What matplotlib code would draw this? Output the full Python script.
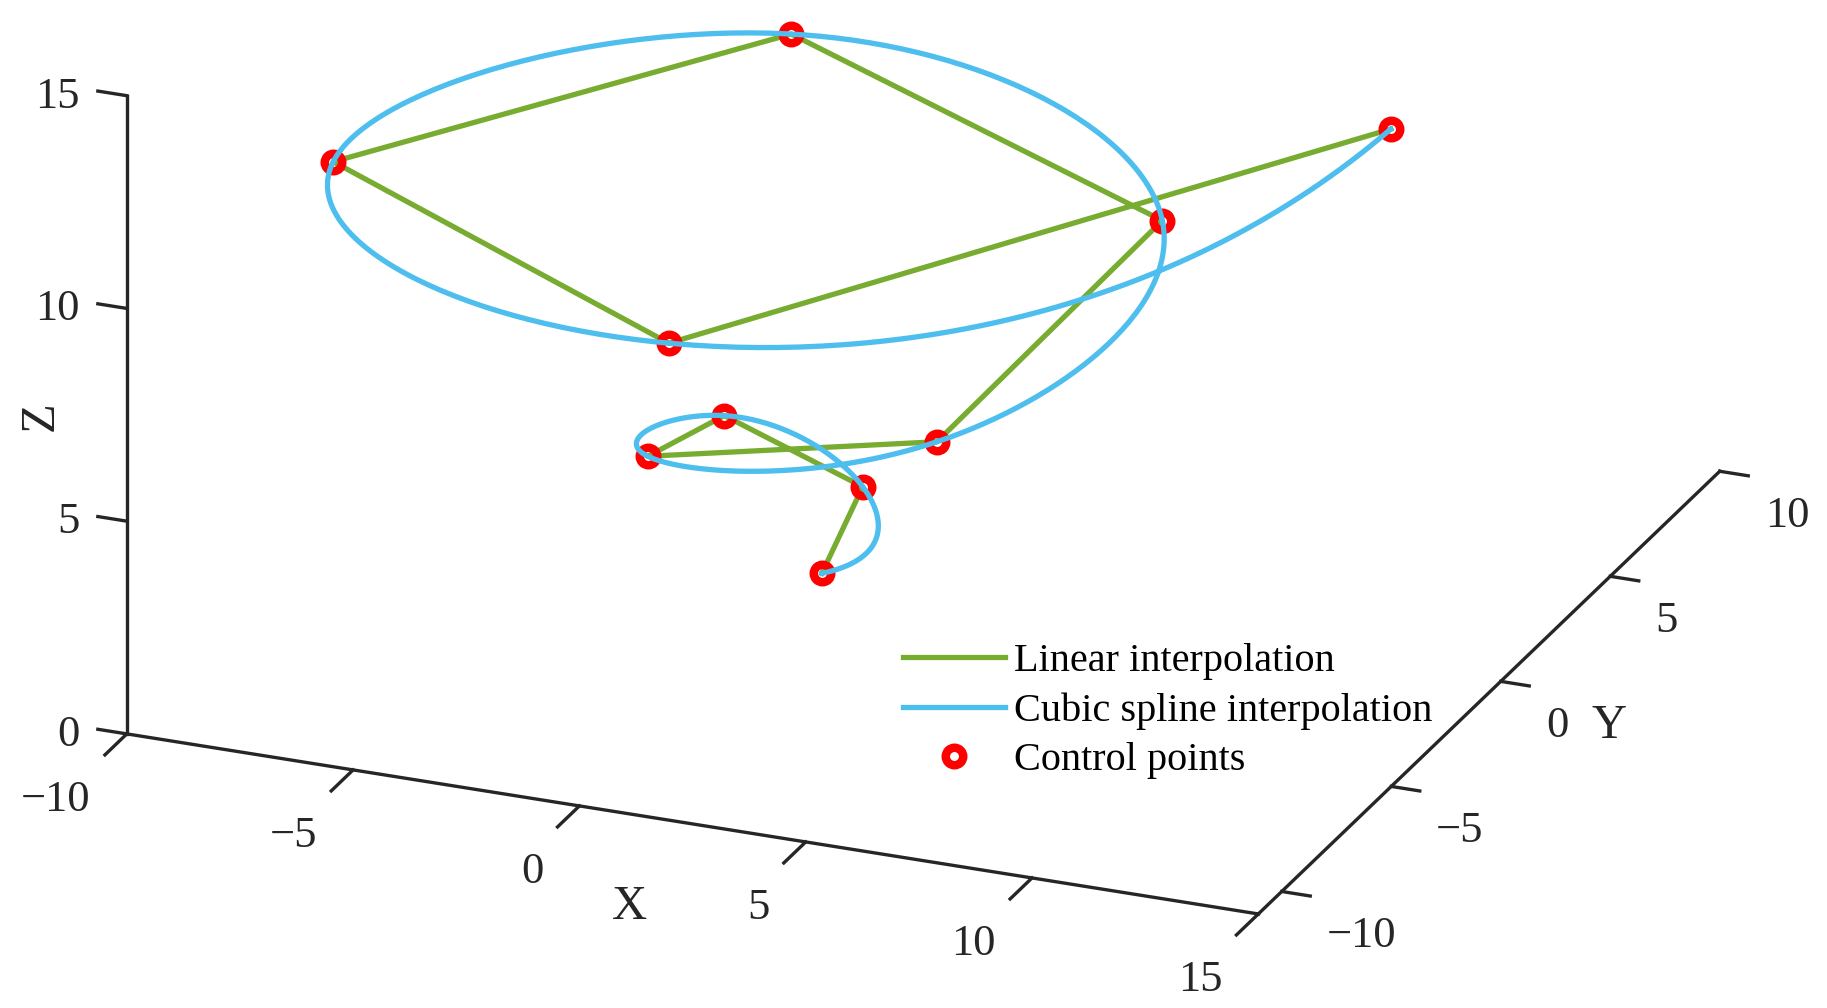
import numpy as np
import matplotlib
matplotlib.use("Agg")
import matplotlib.pyplot as plt
from matplotlib.transforms import IdentityTransform
from mpl_toolkits.mplot3d import proj3d

plt.rcParams['font.family'] = ['Liberation Serif', 'DejaVu Serif']

# ---------------- data (control points) ----------------
x_pts = [0.00, 0.24, -2.62, -2.09, 4.28, 5.35, -4.19, -9.18, 1.94, 12.57]
y_pts = [0.00, 1.37, 0.96, -3.63, -3.59, 4.49, 7.26, -3.34, -11.00, 0.00]
z_pts = [0.00, 1.40, 2.79, 4.19, 5.59, 6.98, 8.38, 9.77, 11.17, 12.57]

x_ticks = [-10, -5, 0, 5, 10, 15]
y_ticks = [-10, -5, 0, 5, 10]
z_ticks = [0, 5, 10, 15]
x_lim = (-10, 15)
y_lim = (-11.07, 10)
z_lim = (0, 15)

series_labels = ['Linear interpolation', 'Cubic spline interpolation', 'Control points']

GREEN = '#77AC30'
BLUE = '#4DBEEE'
RED = '#FF0000'
AXC = '#262626'


def spline_not_a_knot(tk, yk, tt):
    tk = np.asarray(tk, float)
    yk = np.asarray(yk, float)
    n = len(tk)
    h = np.diff(tk)
    A = np.zeros((n, n))
    b = np.zeros(n)
    A[0, 0], A[0, 1], A[0, 2] = h[1], -(h[0] + h[1]), h[0]
    for i in range(1, n - 1):
        A[i, i - 1] = h[i - 1]
        A[i, i] = 2 * (h[i - 1] + h[i])
        A[i, i + 1] = h[i]
        b[i] = 6 * ((yk[i + 1] - yk[i]) / h[i] - (yk[i] - yk[i - 1]) / h[i - 1])
    A[-1, -3], A[-1, -2], A[-1, -1] = h[-1], -(h[-2] + h[-1]), h[-2]
    M = np.linalg.solve(A, b)
    idx = np.clip(np.searchsorted(tk, tt) - 1, 0, n - 2)
    t0, t1 = tk[idx], tk[idx + 1]
    hh = t1 - t0
    a = t1 - tt
    c = tt - t0
    return ((M[idx] * a ** 3 + M[idx + 1] * c ** 3) / (6 * hh)
            + (yk[idx] / hh - M[idx] * hh / 6) * a
            + (yk[idx + 1] / hh - M[idx + 1] * hh / 6) * c)


tt = np.linspace(z_pts[0], z_pts[-1], 600)
xs_s = spline_not_a_knot(z_pts, x_pts, tt)
ys_s = spline_not_a_knot(z_pts, y_pts, tt)
zs_s = spline_not_a_knot(z_pts, z_pts, tt)

W, H = 1827, 1008
fig = plt.figure(figsize=(W / 100, H / 100), dpi=100)
fig.patch.set_facecolor('white')
ax = fig.add_axes([0, 0, 1, 1], projection='3d', proj_type='ortho',
                  computed_zorder=False)
ax.set_xlim(*x_lim)
ax.set_ylim(*y_lim)
ax.set_zlim(*z_lim)
ax.set_box_aspect((1221.7, 1223.3, 693.3))
ax.view_init(elev=23.0, azim=-67.84)
ax.set_axis_off()

# ---------------- axes lines and ticks (MATLAB-like box-less axes) ----------------
ax_lw = 2.4
xl0, xl1 = x_lim
yl0, yl1 = y_lim
zl0, zl1 = z_lim
ax.plot([xl0, xl1], [yl0, yl0], [zl0, zl0], color=AXC, lw=ax_lw, zorder=1)
ax.plot([xl1, xl1], [yl0, yl1], [zl0, zl0], color=AXC, lw=ax_lw, zorder=1)
ax.plot([xl0, xl0], [yl0, yl0], [zl0, zl1], color=AXC, lw=ax_lw, zorder=1)
for xv in x_ticks:
    ax.plot([xv, xv], [yl0, yl0 - 1.0], [zl0, zl0], color=AXC, lw=ax_lw, zorder=1)
for yv in y_ticks:
    ax.plot([xl1, xl1 + 0.63], [yv, yv], [zl0, zl0], color=AXC, lw=ax_lw, zorder=1)
for zv in z_ticks:
    ax.plot([xl0, xl0 - 0.64], [yl0, yl0], [zv, zv], color=AXC, lw=ax_lw, zorder=1)

# ---------------- data series ----------------
l1, = ax.plot(x_pts, y_pts, z_pts, color=GREEN, lw=3.8, zorder=2)
l3, = ax.plot(x_pts, y_pts, z_pts, ls='none', marker='o', ms=12.6, mew=6.1,
              mfc='none', mec=RED, zorder=3)
l2, = ax.plot(xs_s, ys_s, zs_s, color=BLUE, lw=3.8, zorder=4)

# ---------------- fit the projected box onto the target frame ----------------
fig.canvas.draw()


def disp(pts):
    pts = np.asarray(pts, float)
    px, py, _ = proj3d.proj_transform(pts[:, 0], pts[:, 1], pts[:, 2], ax.get_proj())
    return ax.transData.transform(np.column_stack([px, py]))


refs = [(xl0, yl0, zl0), (xl1, yl0, zl0), (xl1, yl1, zl0), (xl0, yl0, zl1)]
targets = np.array([(126.7, 733.3), (1258.3, 913.3), (1720.0, 472.7), (126.7, 95.5)])
targets[:, 1] = H - targets[:, 1]
p = disp(refs)
pc = p.mean(axis=0)
tc = targets.mean(axis=0)
k = np.sum((p - pc) * (targets - tc)) / np.sum((p - pc) ** 2)
C0 = np.array([W / 2, H / 2])
Cn = tc + k * (C0 - pc)
ax.set_position([(Cn[0] - k * W / 2) / W, (Cn[1] - k * H / 2) / H, k, k])
fig.canvas.draw()

# ---------------- tick labels & axis labels ----------------
TICK_FS = 32
LAB_FS = 35
LEG_FS = 29


def put(anchor, dx, dy_down, s, **kw):
    q = disp([anchor])[0]
    fig.text(q[0] + dx, q[1] - dy_down, s, transform=IdentityTransform(),
             color=AXC, **kw)


def fmt(v):
    return str(v).replace('-', '\u2212')


for xv in x_ticks:
    put((xv, yl0, zl0), -36, 66, fmt(xv), ha='right', va='center', fontsize=TICK_FS)
for yv in y_ticks:
    put((xl1, yv, zl0), 45, 45, fmt(yv), ha='left', va='center', fontsize=TICK_FS)
for zv in z_ticks:
    put((xl0, yl0, zv), -46.7, 1, fmt(zv), ha='right', va='center', fontsize=TICK_FS)

put(((xl0 + xl1) / 2, yl0, zl0), -63.5, 83, 'X', ha='center', va='center', fontsize=LAB_FS)
put((xl1, (yl0 + yl1) / 2, zl0), 120, 33, 'Y', ha='center', va='center', fontsize=LAB_FS)
put((xl0, yl0, (zl0 + zl1) / 2), -86, 1, 'Z', ha='center', va='center',
    fontsize=LAB_FS, rotation=90)

# ---------------- legend ----------------
leg = fig.legend([l1, l2, l3], series_labels, loc='upper left',
                 bbox_to_anchor=(903 / W, 1 - 643 / H), frameon=False,
                 fontsize=LEG_FS, handlelength=2.53, handletextpad=0.22,
                 labelspacing=0.3, borderpad=0, borderaxespad=0)
for txt in leg.get_texts():
    txt.set_color('black')

fig.savefig('out.png', dpi=100, facecolor='white')
